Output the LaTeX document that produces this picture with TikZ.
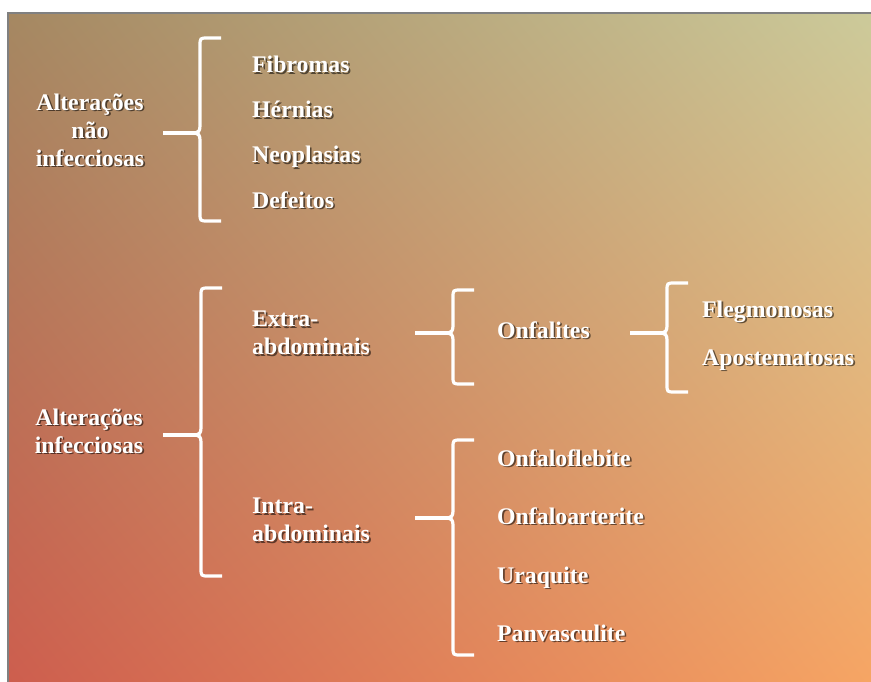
\documentclass[tikz,border=0pt]{standalone}
\usepackage{fontspec}
\setmainfont{Liberation Serif}
\pgfdeclarefunctionalshading{bgshade}{\pgfpoint{0bp}{0bp}}{\pgfpoint{100bp}{100bp}}{}{
25 sub 50 div exch 25 sub 50 div exch
2 copy mul
3 copy -0.008 mul exch -0.157 mul add exch 0.161 mul add 0.804 add 4 1 roll
3 copy -0.019 mul exch 0.164 mul add exch 0.278 mul add 0.369 add 4 1 roll
0.134 mul exch 0.078 mul add exch 0.086 mul add 0.306 add
}
\tikzset{
  txt/.style={text=white, font=\fontsize{23.8}{28}\selectfont\bfseries, inner sep=0pt},
  txtsh/.style={text=black, text opacity=0.55, font=\fontsize{23.8}{28}\selectfont\bfseries, inner sep=0pt},
  brace/.style={draw=white, line width=3.2pt},
  frameline/.style={draw=black!50, line width=2pt}
}
\newcommand\lbl[4]{%
  \node[txtsh,#3,xshift=1.6pt,yshift=-1.6pt] (#1-sh) at (#2) {#4};
  \node[txt,#3] (#1) at (#2) {#4};}
\newcommand\brc[5]{%
  \coordinate (#1) at ({#2-5},#4);
  \draw[brace] ({#2+21},#3) -- ({#2+8},#3) .. controls (#2,#3) .. (#2,{#3+8})
    -- (#2,{#4-7}) .. controls (#2,{#4-2}) and ({#2-2},#4) .. (#1)
    .. controls ({#2-2},#4) and (#2,{#4+2}) .. (#2,{#4+7})
    -- (#2,{#5-8}) .. controls (#2,#5) .. ({#2+8},#5) -- ({#2+21},#5);}
\begin{document}
\begin{tikzpicture}[x=1pt,y=-1pt]
\useasboundingbox (0,0) rectangle (871,682);
\fill[white] (0,0) rectangle (871,682);
\shade[shading=bgshade] (9,14) rectangle (871,682);
\draw[frameline] (8,682) -- (8,13) -- (871,13);

% labels
\lbl{ani}{90,130}{align=center}{Alterações\\não\\infecciosas}
\lbl{fib}{252,73}{anchor=base west}{Fibromas}
\lbl{her}{252,118}{anchor=base west}{Hérnias}
\lbl{neo}{252,163}{anchor=base west}{Neoplasias}
\lbl{def}{252,208}{anchor=base west}{Defeitos}
\lbl{ai}{89,431}{align=center}{Alterações\\infecciosas}
\lbl{ext}{252,333}{anchor=west,align=left}{Extra-\\abdominais}
\lbl{int}{252,520}{anchor=west,align=left}{Intra-\\abdominais}
\lbl{onf}{497,338}{anchor=base west}{Onfalites}
\lbl{fle}{702,317}{anchor=base west}{Flegmonosas}
\lbl{apo}{702,365}{anchor=base west}{Apostematosas}
\lbl{ofl}{497,466}{anchor=base west}{Onfaloflebite}
\lbl{oar}{497,524}{anchor=base west}{Onfaloarterite}
\lbl{ura}{497,583}{anchor=base west}{Uraquite}
\lbl{pan}{497,641}{anchor=base west}{Panvasculite}

% braces
\brc{c1}{200}{38}{133}{221}
\brc{c2}{201}{288}{435}{576}
\brc{c3}{453}{290}{333}{384}
\brc{c4}{667}{283}{333}{392}
\brc{c5}{453}{440}{518}{655}

% stems
\coordinate (s1) at (163,133);
\coordinate (s2) at (163,435);
\coordinate (s3) at (415,333);
\coordinate (s4) at (630,333);
\coordinate (s5) at (415,518);
\draw[brace] (s1) -- (c1);
\draw[brace] (s2) -- (c2);
\draw[brace] (s3) -- (c3);
\draw[brace] (s4) -- (c4);
\draw[brace] (s5) -- (c5);
\end{tikzpicture}
\end{document}
